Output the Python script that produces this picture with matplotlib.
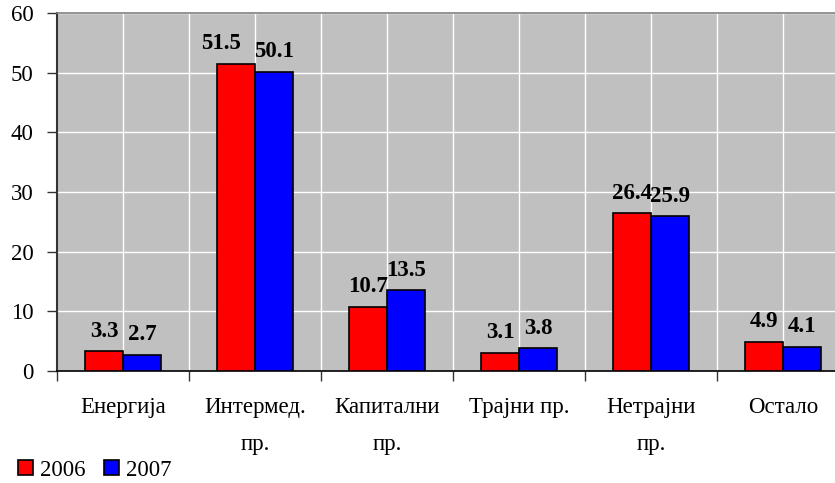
import matplotlib
matplotlib.use("Agg")
import matplotlib.pyplot as plt
from matplotlib.patches import Patch
import numpy as np

categories = ["Енергија", "Интермед.\nпр.", "Капитални\nпр.", "Трајни пр.", "Нетрајни\nпр.", "Остало"]
series_names = ["2006", "2007"]
values_2006 = [3.3, 51.5, 10.7, 3.1, 26.4, 4.9]
values_2007 = [2.7, 50.1, 13.5, 3.8, 25.9, 4.1]
y_ticks = [0, 10, 20, 30, 40, 50, 60]

plt.rcParams['font.family'] = ['Liberation Serif', 'DejaVu Serif']

fig = plt.figure(figsize=(8.35, 4.83), dpi=100)
ax = fig.add_axes([57/835, 1-371/483, 1-57/835, (371-13)/483])
ax.set_facecolor('#c0c0c0')

x = np.arange(len(categories))
w = 0.288
colors = ['#ff0000', '#0000ff']
# small nudge for a crowded label (series index, category index) -> x offset in points
nudges = {(0, 1): -11}
for i, (vals, col) in enumerate(zip([values_2006, values_2007], colors)):
    pos = x + (i - 0.5) * w
    ax.bar(pos, vals, width=w, color=col, edgecolor='black', linewidth=1.2, zorder=3)
    for j, (p, v) in enumerate(zip(pos, vals)):
        ax.annotate(f"{v:.1f}", (p, v), xytext=(nudges.get((i, j), 0), 7), textcoords='offset points',
                    ha='center', va='bottom', fontsize=16.5, fontweight='bold', zorder=4)

ax.set_ylim(0, 60)
ax.set_yticks(y_ticks)
ax.set_yticklabels([str(t) for t in y_ticks], fontsize=16.5)

ax.set_xticks(np.arange(-0.5, len(categories), 1.0), minor=True)
ax.set_xticks(x)
ax.set_xticklabels(categories, fontsize=16.5, linespacing=1.95, va='top')
for gx in np.arange(0, len(categories) + 0.5, 0.5):
    ax.axvline(gx, color='white', linewidth=1, zorder=1)
for gy in y_ticks[1:]:
    ax.axhline(gy, color='white', linewidth=1, zorder=1)
ax.set_xlim(-0.5, -0.5 + (835-57)/132)

ax.tick_params(axis='x', which='major', length=0, pad=19)
ax.tick_params(axis='x', which='minor', length=7, width=1, direction='out', color='#333333')
ax.tick_params(axis='y', length=7, width=1, direction='out', pad=10, color='#333333')

ax.spines['top'].set_color('#808080')
ax.spines['top'].set_linewidth(1.2)
ax.spines['right'].set_visible(False)
ax.spines['left'].set_color('#333333')
ax.spines['left'].set_linewidth(1.5)
ax.spines['bottom'].set_color('black')
ax.spines['bottom'].set_linewidth(1.2)

handles = [Patch(facecolor=c, edgecolor='black', linewidth=1.2) for c in colors]
fig.legend(handles, series_names, loc='lower left', bbox_to_anchor=(0.0, -0.033),
           ncol=2, frameon=False, fontsize=16.5, handlelength=0.65, handleheight=0.65,
           handletextpad=0.3, columnspacing=0.8, borderpad=0.3)

fig.savefig('out.png', dpi=100)
